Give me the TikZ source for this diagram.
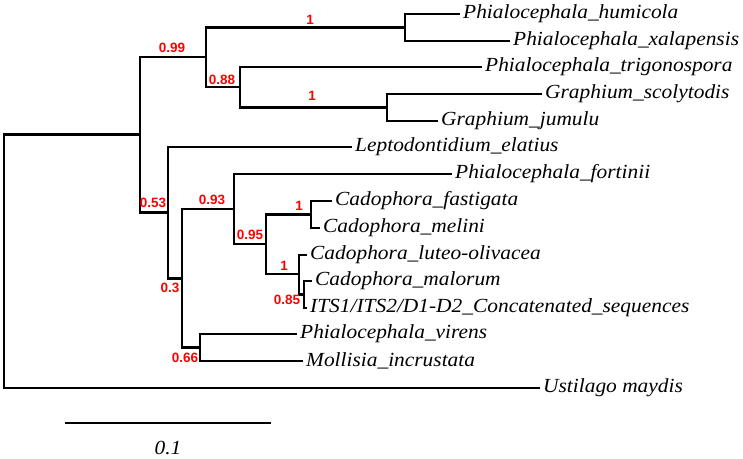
\documentclass[tikz,border=0pt]{standalone}
\usepackage{fontspec}
\setmainfont{Liberation Serif}
\newfontfamily\leaffont[FakeStretch=1.07]{Liberation Serif}
\newfontfamily\supfont{Liberation Sans}
\usetikzlibrary{positioning}

\begin{document}
\begin{tikzpicture}[
    x=1pt, y=-1pt,
    branch/.style={line width=2.7pt, line join=miter},
    taxon/.style={anchor=west, inner xsep=3pt, inner ysep=0pt, font=\leaffont\itshape\fontsize{20}{20}\selectfont},
    support/.style={text=red, inner sep=0pt, font=\supfont\bfseries\fontsize{13.5}{13.5}\selectfont}
]
\useasboundingbox (0,0) rectangle (743,458);

% leaves
\node[taxon] (humicola) at (460,14) {Phialocephala\_humicola};
\node[taxon] (xalapensis) at (510,41) {Phialocephala\_xalapensis};
\node[taxon] (trigonospora) at (482,67) {Phialocephala\_trigonospora};
\node[taxon] (scolytodis) at (542,94) {Graphium\_scolytodis};
\node[taxon] (jumulu) at (438,121) {Graphium\_jumulu};
\node[taxon] (leptodontidium) at (352,147) {Leptodontidium\_elatius};
\node[taxon] (fortinii) at (452,174) {Phialocephala\_fortinii};
\node[taxon] (fastigata) at (332,201) {Cadophora\_fastigata};
\node[taxon] (melini) at (320,228) {Cadophora\_melini};
\node[taxon] (luteo) at (307,255) {Cadophora\_luteo-olivacea};
\node[taxon] (malorum) at (312,281) {Cadophora\_malorum};
\node[taxon] (its) at (307,308) {ITS1/ITS2/D1-D2\_Concatenated\_sequences};
\node[taxon] (virens) at (297,334) {Phialocephala\_virens};
\node[taxon] (mollisia) at (303,361) {Mollisia\_incrustata};
\node[taxon] (ustilago) at (540,388) {Ustilago maydis};

% internal nodes
\coordinate (root) at (4,261);
\coordinate (nA) at (140,134.5);
\coordinate (nB) at (206,57);
\coordinate (nC) at (405,27.5);
\coordinate (nD) at (240,87);
\coordinate (nE) at (387,107.5);
\coordinate (nF) at (168,212.5);
\coordinate (nG) at (182,278.5);
\coordinate (nH) at (234,209);
\coordinate (nI) at (266,244);
\coordinate (nJ) at (311,214.5);
\coordinate (nK) at (299,274);
\coordinate (nL) at (304,294.5);
\coordinate (nM) at (200,347.5);

% branches
\draw[branch] (root) |- (nA);
\draw[branch] (root) |- (ustilago.west);
\draw[branch] (nA) |- (nB);
\draw[branch] (nA) |- (nF);
\draw[branch] (nB) |- (nC);
\draw[branch] (nB) |- (nD);
\draw[branch] (nC) |- (humicola.west);
\draw[branch] (nC) |- (xalapensis.west);
\draw[branch] (nD) |- (trigonospora.west);
\draw[branch] (nD) |- (nE);
\draw[branch] (nE) |- (scolytodis.west);
\draw[branch] (nE) |- (jumulu.west);
\draw[branch] (nF) |- (leptodontidium.west);
\draw[branch] (nF) |- (nG);
\draw[branch] (nG) |- (nH);
\draw[branch] (nG) |- (nM);
\draw[branch] (nH) |- (fortinii.west);
\draw[branch] (nH) |- (nI);
\draw[branch] (nI) |- (nJ);
\draw[branch] (nI) |- (nK);
\draw[branch] (nJ) |- (fastigata.west);
\draw[branch] (nJ) |- (melini.west);
\draw[branch] (nK) |- (luteo.west);
\draw[branch] (nK) |- (nL);
\draw[branch] (nL) |- (malorum.west);
\draw[branch] (nL) |- (its.west);
\draw[branch] (nM) |- (virens.west);
\draw[branch] (nM) |- (mollisia.west);

% support values
\node[support] (sC) at (310,20) {1};
\node[support] (sB) at (172,48) {0.99};
\node[support] (sD) at (222,80) {0.88};
\node[support] (sE) at (312,95.5) {1};
\node[support] (sF) at (153,203) {0.53};
\node[support] (sH) at (212,200) {0.93};
\node[support] (sJ) at (299,206) {1};
\node[support] (sI) at (250,235) {0.95};
\node[support] (sK) at (284,266) {1};
\node[support] (sL) at (287,300) {0.85};
\node[support] (sG) at (170,287.5) {0.3};
\node[support] (sM) at (185,358) {0.66};

% scale bar
\coordinate (barL) at (65,423);
\coordinate (barR) at (271,423);
\draw[branch] (barL) -- (barR);
\node[font=\leaffont\itshape\fontsize{20}{20}\selectfont] (barlabel) at (168,448) {0.1};
\end{tikzpicture}
\end{document}
